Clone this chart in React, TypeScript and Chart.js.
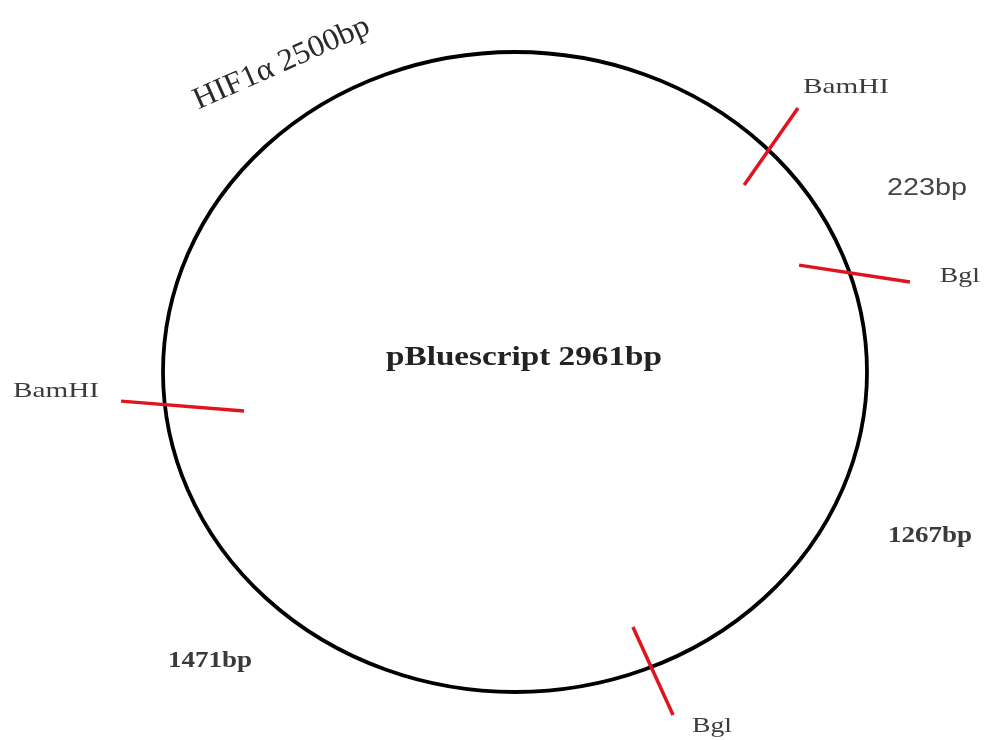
import React, { useEffect, useRef } from "react";
import { Chart, registerables } from "chart.js";

Chart.register(...registerables);

// Plasmid: pBluescript 2961bp with HIF1α 2500bp insert
const plasmidName = "pBluescript 2961bp";
const insertName = "HIF1α 2500bp";

// Restriction sites (unit-circle data space: inner and outer end of each cut mark)
const siteNames = ["BamHI", "Bgl", "Bgl", "BamHI"];
const siteInnerX = [0.651, 0.807, 0.335, -0.77];
const siteInnerY = [0.584, 0.334, -0.797, -0.122];
const siteOuterX = [0.804, 1.122, 0.449, -1.119];
const siteOuterY = [0.825, 0.281, -1.072, -0.091];

// Fragment lengths between sites
const fragmentLabels = ["223bp", "1267bp", "1471bp"];

// Label anchors (data space)
const labelX = [0.818, 1.207, 0.503, -1.426];
const labelY = [0.872, 0.281, -1.125, -0.078];
const fragX = [1.057, 1.06, -0.986];
const fragY = [0.553, -0.531, -0.922];

type Lbl = {
  text: string; x: number; y: number; size: number; width: number;
  family: string; weight?: string; color: string; align?: string; rot?: number;
};

const labels: Lbl[] = [
  ...siteNames.map((t, i) => ({
    text: t, x: labelX[i], y: labelY[i], size: 22,
    width: t === "BamHI" ? 86 : 40, family: "'Liberation Serif', serif", color: "#3c3c3c",
  })),
  ...fragmentLabels.map((t, i) => ({
    text: t, x: fragX[i], y: fragY[i], size: i === 0 ? 24 : 24,
    width: i === 0 ? 80 : 84,
    family: i === 0 ? "'Liberation Sans', sans-serif" : "'Liberation Serif', serif",
    weight: i === 0 ? "normal" : "bold",
    color: i === 0 ? "#444" : "#3a3a3a",
  })),
  {
    text: plasmidName, x: 0.0256, y: 0.022, size: 28, width: 276,
    family: "'Liberation Serif', serif", weight: "bold", color: "#222", align: "center",
  },
  {
    text: insertName, x: -0.9, y: 0.82, size: 31, width: 190,
    family: "'Liberation Serif', serif", color: "#2a2a2a", rot: -24,
  },
];

const plasmidPlugin = {
  id: "plasmid",
  beforeDatasetsDraw(chart: any) {
    const { ctx, scales } = chart;
    const xs = scales.x, ys = scales.y;
    const cx = xs.getPixelForValue(0), cy = ys.getPixelForValue(0);
    const rx = Math.abs(xs.getPixelForValue(1) - cx);
    const ry = Math.abs(ys.getPixelForValue(1) - cy);
    ctx.save();
    ctx.beginPath();
    ctx.ellipse(cx, cy, rx, ry, 0, 0, Math.PI * 2);
    ctx.strokeStyle = "#000";
    ctx.lineWidth = 3.8;
    ctx.stroke();
    ctx.restore();
  },
  afterDatasetsDraw(chart: any) {
    const { ctx, scales } = chart;
    const xs = scales.x, ys = scales.y;
    labels.forEach((l) => {
      const px = xs.getPixelForValue(l.x), py = ys.getPixelForValue(l.y);
      ctx.save();
      ctx.font = `${l.weight || "normal"} ${l.size}px ${l.family}`;
      ctx.fillStyle = l.color;
      ctx.textBaseline = "alphabetic";
      ctx.textAlign = "left";
      const m = ctx.measureText(l.text).width;
      const sx = l.width / m;
      ctx.translate(px, py);
      if (l.rot) ctx.rotate((l.rot * Math.PI) / 180);
      ctx.scale(sx, 1);
      const offset = l.align === "center" ? -m / 2 : 0;
      ctx.fillText(l.text, offset, 0);
      ctx.restore();
    });
  },
};

export default function App() {
  const ref = useRef<HTMLCanvasElement>(null);
  useEffect(() => {
    if (!ref.current) return;
    const chart = new Chart(ref.current, {
      type: "scatter",
      data: {
        datasets: siteNames.map((n, i) => ({
          label: n,
          data: [
            { x: siteInnerX[i], y: siteInnerY[i] },
            { x: siteOuterX[i], y: siteOuterY[i] },
          ],
          showLine: true,
          borderColor: "#e0141f",
          borderWidth: 3.5,
          pointRadius: 0,
          borderCapStyle: "butt",
        })),
      },
      options: {
        responsive: false,
        animation: false,
        layout: { padding: 0 },
        plugins: { legend: { display: false }, tooltip: { enabled: false } },
        scales: {
          x: { type: "linear", display: false, min: -1.4631, max: 1.3324 },
          y: { type: "linear", display: false, min: -1.15, max: 1.1625 },
        },
      },
      plugins: [plasmidPlugin],
    } as any);
    return () => chart.destroy();
  }, []);
  return (
    <div style={{ position: "absolute", left: 0, top: 0, width: 984, height: 740, background: "#fff" }}>
      <canvas ref={ref} width={984} height={740} />
    </div>
  );
}
